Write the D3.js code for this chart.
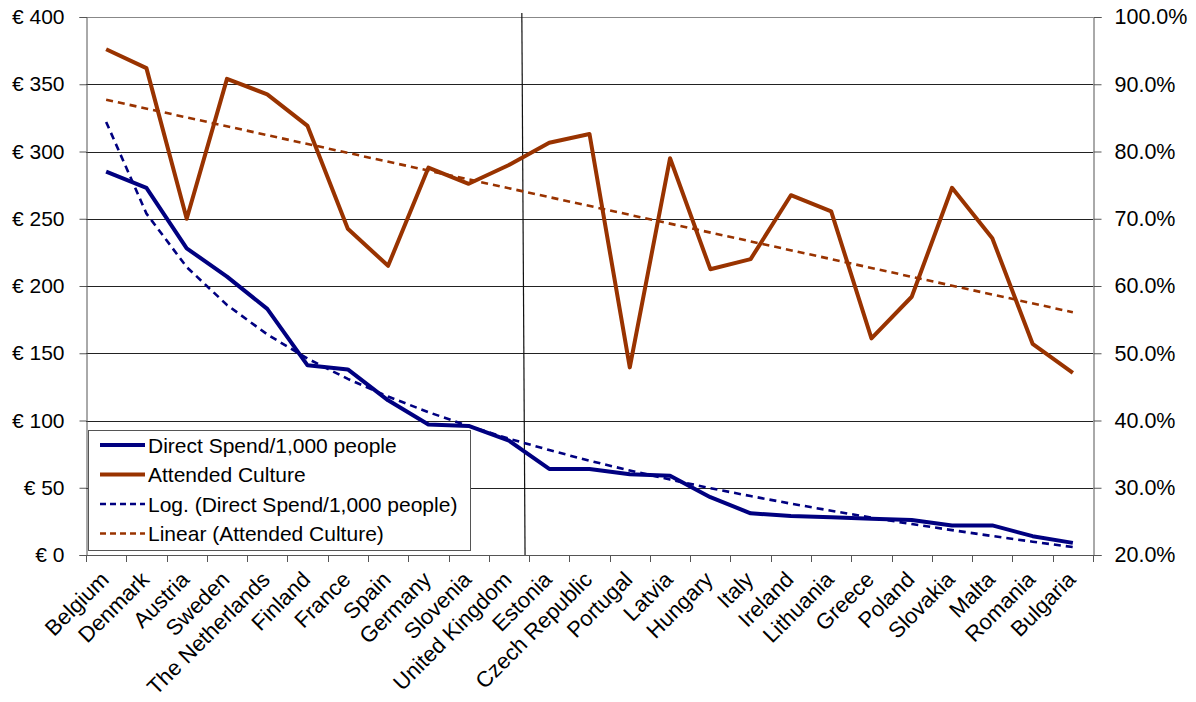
<!DOCTYPE html>
<html><head><meta charset="utf-8">
<script src="https://cdn.jsdelivr.net/npm/d3@7"></script>
<style>body{margin:0;background:#fff}svg{display:block}text{font-family:"Liberation Sans",Arial,sans-serif;fill:#000}</style>
</head><body><svg id="c" width="1196" height="702"></svg>
<script>
const categories = ["Belgium","Denmark","Austria","Sweden","The Netherlands","Finland","France","Spain","Germany","Slovenia","United Kingdom","Estonia","Czech Republic","Portugal","Latvia","Hungary","Italy","Ireland","Lithuania","Greece","Poland","Slovakia","Malta","Romania","Bulgaria"];
const directSpend = [285,273,228,207,183,141,138,115,97,96,85,64,64,60,59,43,31,29,28,27,26,22,22,14,9];
const attendedCulture = [95.2,92.4,70.0,90.8,88.5,83.8,68.5,63.0,77.6,75.2,78.0,81.3,82.6,47.9,79.0,62.5,64.0,73.5,71.1,52.2,58.4,74.6,67.1,51.4,47.1];
const logTrendSpend = [322,253.9,214.1,185.9,164.0,146.0,130.9,117.8,106.2,95.9,86.5,78.0,70.1,62.8,56.1,49.7,43.8,38.2,32.9,27.8,23.0,18.5,14.1,9.9,5.9];
const linearTrendEnds = [87.7,56.1];
const leftTicks = [0,50,100,150,200,250,300,350,400];
const rightTicks = [20,30,40,50,60,70,80,90,100];
const legendLabels = ["Direct Spend/1,000 people","Attended Culture","Log. (Direct Spend/1,000 people)","Linear (Attended Culture)"];
const dividerPos = [10.82,10.90]; // vertical marker between United Kingdom and Estonia (band units, top/bottom)

const L=86,R=1093,T=17,B=555;
const NAVY="#000080", BROWN="#993300";
const svg=d3.select("#c");
const x=d3.scaleBand().domain(categories).range([L,R]).padding(0);
const cx=c=>x(c)+x.bandwidth()/2;
const xi=d3.scaleLinear().domain([0,categories.length]).range([L,R]);
const yL=d3.scaleLinear().domain([0,400]).range([B,T]);
const yR=d3.scaleLinear().domain([20,100]).range([B,T]);

// gridlines
svg.append("g").selectAll("line").data(leftTicks.filter(d=>d>0)).join("line")
  .attr("x1",L).attr("x2",R).attr("y1",d=>Math.round(yL(d))+0.5).attr("y2",d=>Math.round(yL(d))+0.5)
  .attr("stroke",d=>d===400?"#888":"#222").attr("stroke-width",1);

// left axis
const gl=svg.append("g").attr("transform",`translate(${L+0.5},0)`)
  .call(d3.axisLeft(yL).tickValues(leftTicks).tickSize(7).tickPadding(15).tickFormat(d=>"€ "+d));
gl.select(".domain").attr("stroke","#555");
gl.selectAll(".tick line").attr("stroke","#555");
gl.selectAll("text").attr("font-size",21).attr("font-family","Liberation Sans, Arial").attr("fill","#000");

// right axis
const gr=svg.append("g").attr("transform",`translate(${R+0.5},0)`)
  .call(d3.axisRight(yR).tickValues(rightTicks).tickSize(8).tickPadding(13).tickFormat(d=>d.toFixed(1)+"%"));
gr.select(".domain").attr("stroke","#555");
gr.selectAll(".tick line").attr("stroke","#555");
gr.selectAll("text").attr("font-size",21.5).attr("font-family","Liberation Sans, Arial").attr("fill","#000");

// bottom axis
svg.append("line").attr("x1",L).attr("x2",R).attr("y1",B+0.5).attr("y2",B+0.5).attr("stroke","#555");
svg.append("g").selectAll("line").data(d3.range(categories.length+1)).join("line")
  .attr("x1",d=>Math.round(xi(d))+0.5).attr("x2",d=>Math.round(xi(d))+0.5).attr("y1",B).attr("y2",B+7).attr("stroke","#555");
svg.append("g").selectAll("text").data(categories).join("text")
  .attr("transform",d=>`translate(${cx(d)-1.4},${B+20.5}) rotate(-45)`)
  .attr("text-anchor","end").attr("dy","0.35em").attr("font-size",22).text(d=>d);

// divider line
svg.append("line").attr("x1",xi(dividerPos[0])).attr("y1",T-4).attr("x2",xi(dividerPos[1])).attr("y2",B)
  .attr("stroke","#111").attr("stroke-width",1.2);

// trend lines
svg.append("path").datum(logTrendSpend.map((v,i)=>[cx(categories[i]),yL(v)]))
  .attr("d",d3.line()).attr("fill","none").attr("stroke",NAVY).attr("stroke-width",2.6).attr("stroke-dasharray","7,5");
svg.append("path").datum([[cx(categories[0]),yR(linearTrendEnds[0])],[cx(categories[categories.length-1]),yR(linearTrendEnds[1])]])
  .attr("d",d3.line()).attr("fill","none").attr("stroke",BROWN).attr("stroke-width",2.6).attr("stroke-dasharray","7,5");

// series
svg.append("path").datum(directSpend).attr("fill","none").attr("stroke",NAVY).attr("stroke-width",4).attr("stroke-linejoin","round")
  .attr("d",d3.line().x((d,i)=>cx(categories[i])).y(d=>yL(d)));
svg.append("path").datum(attendedCulture).attr("fill","none").attr("stroke",BROWN).attr("stroke-width",4).attr("stroke-linejoin","round")
  .attr("d",d3.line().x((d,i)=>cx(categories[i])).y(d=>yR(d)));

// legend
const lg=svg.append("g").attr("transform","translate(88,430)");
lg.append("rect").attr("x",0.5).attr("y",0.5).attr("width",382).attr("height",120).attr("fill","#fff").attr("stroke","#555");
const styles=[{c:NAVY,w:4,da:null},{c:BROWN,w:4,da:null},{c:NAVY,w:2.6,da:"6,4"},{c:BROWN,w:2.6,da:"6,4"}];
legendLabels.forEach((t,i)=>{
  const yy=15+i*29.5;
  lg.append("line").attr("x1",12).attr("x2",57).attr("y1",yy).attr("y2",yy).attr("stroke",styles[i].c).attr("stroke-width",styles[i].w).attr("stroke-dasharray",styles[i].da);
  lg.append("text").attr("x",60).attr("y",yy).attr("dy","0.36em").attr("font-size",21).text(t);
});
</script></body></html>
